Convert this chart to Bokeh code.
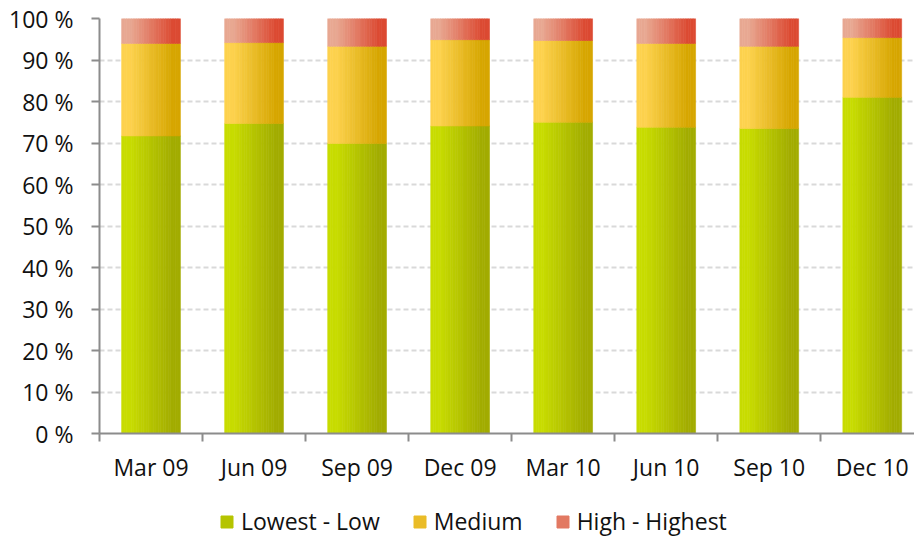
import numpy as np
from bokeh.plotting import figure
from bokeh.layouts import column
from bokeh.models import (ColumnDataSource, Range1d, FixedTicker, Legend, LegendItem)
from bokeh.embed import file_html
from bokeh.resources import INLINE

# ---- data (percent shares, stacked to 100 %) ----
categories = ["Mar 09", "Jun 09", "Sep 09", "Dec 09", "Mar 10", "Jun 10", "Sep 10", "Dec 10"]
lowest_low = [71.7, 74.7, 69.9, 74.1, 75.0, 73.8, 73.5, 81.0]
medium = [22.3, 19.5, 23.4, 20.8, 19.7, 20.2, 19.8, 14.4]
high_highest = [6.0, 5.8, 6.7, 5.1, 5.3, 6.0, 6.7, 4.6]
series_names = ["Lowest - Low", "Medium", "High - Highest"]
y_ticks = [0, 10, 20, 30, 40, 50, 60, 70, 80, 90, 100]

# gradient end colours (left -> right) per series
grad = [((200, 220, 0), (162, 172, 0)),
        ((253, 210, 78), (214, 166, 0)),
        ((232, 168, 146), (220, 74, 50))]

FONT = "Open Sans"
N_STRIPS = 24
BAR_W = 0.57
W, H_MAIN, H_LEG = 914, 486, 51

p = figure(width=W, height=H_MAIN, output_backend="svg", toolbar_location=None,
           x_range=Range1d(0, 7.91), y_range=Range1d(0, 100),
           min_border_left=99, min_border_right=0, min_border_top=18, min_border_bottom=53)
p.outline_line_color = None
p.background_fill_color = "white"

centers = np.arange(len(categories)) + 0.5
vals = [np.array(lowest_low), np.array(medium), np.array(high_highest)]
bottoms = [np.zeros(len(categories)), vals[0], vals[0] + vals[1]]


def mix(c0, c1, t):
    return "#%02x%02x%02x" % tuple(int(round(c0[j] + (c1[j] - c0[j]) * t)) for j in range(3))


for s in range(3):
    xs, ws, bs, ts, cs = [], [], [], [], []
    c0, c1 = grad[s]
    for i in range(len(categories)):
        for k in range(N_STRIPS):
            frac = (k + 0.5) / N_STRIPS
            t = min(max((frac - 0.15) / 0.72, 0.0), 1.0)
            xs.append(centers[i] - BAR_W / 2 + (k + 0.5) * BAR_W / N_STRIPS)
            ws.append(BAR_W / N_STRIPS * 1.02)
            bs.append(bottoms[s][i])
            ts.append(bottoms[s][i] + vals[s][i])
            cs.append(mix(c0, c1, t))
    src = ColumnDataSource(dict(x=xs, w=ws, b=bs, t=ts, c=cs))
    p.vbar(x="x", width="w", bottom="b", top="t", fill_color="c", line_color="c",
           line_width=0.6, source=src)

# axes
ax = p.xaxis[0]
ax.ticker = FixedTicker(ticks=list(centers), minor_ticks=list(range(0, len(categories) + 1)))
ax.major_label_overrides = {float(c): lab for c, lab in zip(centers, categories)}
ax.major_tick_out = 0
ax.major_tick_in = 0
ax.minor_tick_out = 8
ax.minor_tick_in = 0
ax.minor_tick_line_color = "#8c8c8c"
ax.minor_tick_line_width = 2
ax.axis_line_color = "#8c8c8c"
ax.axis_line_width = 2
ax.major_label_standoff = 9
ax.major_label_text_font = FONT
ax.major_label_text_font_size = "23px"
ax.major_label_text_color = "#111111"

ay = p.yaxis[0]
ay.ticker = FixedTicker(ticks=y_ticks)
ay.major_label_overrides = {v: "%d %%" % v for v in y_ticks}
ay.major_tick_out = 8
ay.major_tick_in = 0
ay.minor_tick_out = 0
ay.minor_tick_in = 0
ay.major_tick_line_color = "#8c8c8c"
ay.major_tick_line_width = 2
ay.axis_line_color = "#8c8c8c"
ay.axis_line_width = 2
ay.major_label_standoff = 18
ay.major_label_text_font = FONT
ay.major_label_text_font_size = "23px"
ay.major_label_text_color = "#111111"

p.xgrid.grid_line_color = None
p.ygrid.grid_line_color = "#d9d9d9"
p.ygrid.grid_line_width = 2
p.ygrid.grid_line_dash = "5 3"

# legend strip below the chart (frames are aligned with the chart above)
pl = figure(width=W, height=H_LEG, output_backend="svg", toolbar_location=None,
            x_axis_type=None, y_axis_type=None, x_range=Range1d(0, 1), y_range=Range1d(0, 1),
            min_border_left=0, min_border_right=0, min_border_top=0, min_border_bottom=0)
pl.outline_line_color = None
pl.xgrid.visible = False
pl.ygrid.visible = False
items = []
for s in range(3):
    c = mix(grad[s][0], grad[s][1], 0.5)
    r = pl.vbar(x=[-5], top=[-5], width=0.1, fill_color=c, line_color=c)
    items.append(LegendItem(label=series_names[s], renderers=[r]))
legend = Legend(items=items, orientation="horizontal", location=(120, 0),
                glyph_width=15, glyph_height=15, label_standoff=7, spacing=32,
                padding=0, margin=0, border_line_color=None, background_fill_alpha=0,
                label_text_font=FONT, label_text_font_size="23px", label_text_color="#111111")
pl.add_layout(legend, "center")

layout = column(p, pl, spacing=0)
open("out.html", "w").write(file_html(layout, INLINE))
